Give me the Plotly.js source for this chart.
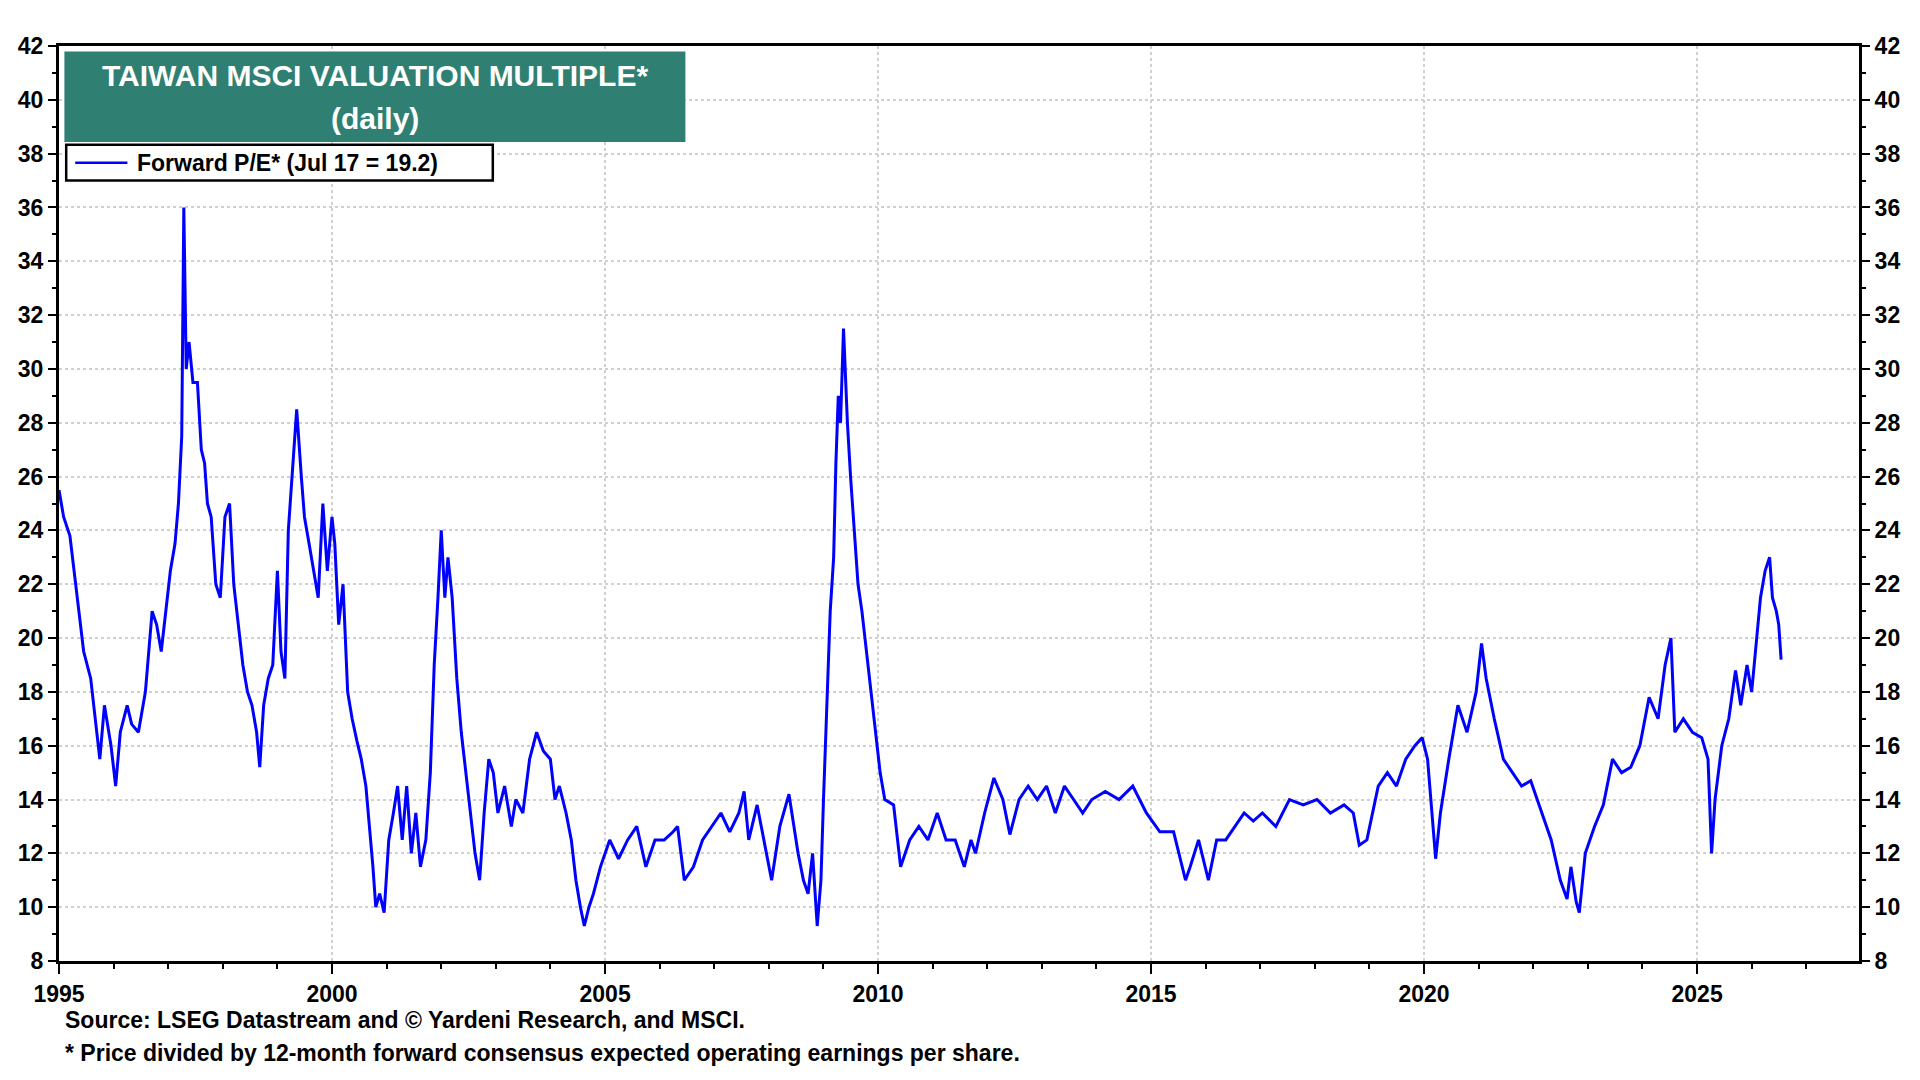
<!DOCTYPE html>
<html>
<head>
<meta charset="utf-8">
<script src="https://cdn.plot.ly/plotly-3.0.1.min.js"></script>
<style>
  html, body { margin: 0; padding: 0; background: #fff; }
  #chart { width: 1920px; height: 1080px; }
</style>
</head>
<body>
<div id="chart"></div>
<script>
/* Taiwan MSCI forward P/E */

const dates = [
  '1995-01-01','1995-02-01','1995-03-15','1995-05-01','1995-06-15','1995-08-01','1995-09-01','1995-10-01','1995-11-01','1995-12-15',
  '1996-01-15','1996-02-15','1996-04-01','1996-05-01','1996-06-15','1996-08-01','1996-09-15','1996-10-15','1996-11-15','1996-12-15',
  '1997-01-15','1997-02-15','1997-03-10','1997-04-01','1997-04-15','1997-05-01','1997-05-20','1997-06-15','1997-07-15','1997-08-10','1997-09-01','1997-09-20','1997-10-15','1997-11-15','1997-12-15',
  '1998-01-15','1998-02-15','1998-03-15','1998-04-15','1998-05-15','1998-06-15','1998-07-15','1998-08-15','1998-09-05','1998-10-01','1998-11-01','1998-12-01',
  '1999-01-01','1999-01-25','1999-02-20','1999-03-15','1999-04-15','1999-05-10','1999-06-10','1999-07-01','1999-08-01','1999-09-01','1999-10-01','1999-11-01','1999-12-01',
  '2000-01-01','2000-01-20','2000-02-15','2000-03-15','2000-04-15','2000-05-15','2000-06-15','2000-07-15','2000-08-15','2000-09-10','2000-10-01','2000-10-20','2000-11-15','2000-12-15',
  '2001-01-15','2001-02-15','2001-03-15','2001-04-15','2001-05-15','2001-06-15','2001-07-15','2001-08-15','2001-09-20','2001-10-20','2001-11-15','2001-12-10',
  '2002-01-01','2002-01-25','2002-02-15','2002-03-15','2002-04-15','2002-05-15','2002-06-15','2002-07-15','2002-08-15','2002-09-15','2002-10-15','2002-11-15','2002-12-15',
  '2003-01-15','2003-03-01','2003-04-15','2003-05-15','2003-07-01','2003-08-15','2003-10-01','2003-11-15',
  '2004-01-01','2004-02-01','2004-03-01','2004-04-15','2004-05-20','2004-06-20','2004-07-20','2004-08-15','2004-09-15','2004-10-15','2004-12-01',
  '2005-02-01','2005-04-01','2005-06-01','2005-08-01','2005-10-01','2005-12-01',
  '2006-02-01','2006-04-01','2006-05-01','2006-06-15','2006-08-15','2006-10-15','2006-12-15',
  '2007-02-15','2007-04-15','2007-06-15','2007-07-20','2007-08-20','2007-10-15','2007-12-01',
  '2008-01-20','2008-03-15','2008-05-15','2008-07-15','2008-08-20','2008-09-20','2008-10-20','2008-11-20','2008-12-15',
  '2009-01-01','2009-01-20','2009-02-15','2009-03-10','2009-03-25','2009-04-10','2009-04-25','2009-05-15','2009-06-10','2009-07-01','2009-07-25','2009-08-20','2009-09-15','2009-10-15','2009-11-15','2009-12-15',
  '2010-01-15','2010-02-15','2010-04-15','2010-06-01','2010-08-01','2010-10-01','2010-12-01',
  '2011-02-01','2011-04-01','2011-06-01','2011-08-01','2011-09-15','2011-10-15','2011-12-15',
  '2012-02-15','2012-04-15','2012-06-01','2012-08-01','2012-10-01','2012-12-01',
  '2013-02-01','2013-04-01','2013-06-01','2013-08-01','2013-10-01','2013-12-01',
  '2014-03-01','2014-06-01','2014-09-01','2014-12-01',
  '2015-03-01','2015-06-01','2015-08-20','2015-09-20','2015-11-15',
  '2016-01-20','2016-03-15','2016-05-15','2016-07-15','2016-09-15','2016-11-15',
  '2017-01-15','2017-04-15','2017-07-15','2017-10-15',
  '2018-01-15','2018-04-15','2018-07-15','2018-09-15','2018-10-25','2018-12-15',
  '2019-03-01','2019-05-01','2019-07-01','2019-09-01','2019-11-01','2019-12-20',
  '2020-01-25','2020-03-19','2020-04-20','2020-06-15','2020-08-15','2020-10-15','2020-12-15',
  '2021-01-20','2021-02-20','2021-04-15','2021-06-15','2021-08-15','2021-10-15','2021-12-15',
  '2022-03-01','2022-05-01','2022-07-01','2022-08-15','2022-09-10','2022-10-15','2022-11-05','2022-12-15',
  '2023-02-15','2023-04-15','2023-06-15','2023-08-15','2023-10-15','2023-12-15',
  '2024-02-15','2024-04-15','2024-06-01','2024-07-10','2024-08-05','2024-10-01','2024-12-01',
  '2025-02-01','2025-03-15','2025-04-08','2025-05-01','2025-06-15','2025-08-01','2025-09-15','2025-10-20','2025-12-01',
  '2026-01-01','2026-02-01','2026-03-01','2026-04-01','2026-05-01','2026-05-20','2026-06-15','2026-07-01','2026-07-17'
];

const forwardPE = [
  25.5,24.5,23.8,21.5,19.5,18.5,17.0,15.5,17.5,16.0,
  14.5,16.5,17.5,16.8,16.5,18.0,21.0,20.5,19.5,21.0,
  22.5,23.5,25.0,27.5,36.0,30.0,31.0,29.5,29.5,27.0,26.5,25.0,24.5,22.0,21.5,
  24.5,25.0,22.0,20.5,19.0,18.0,17.5,16.5,15.2,17.5,18.5,19.0,
  22.5,19.5,18.5,24.0,26.5,28.5,26.0,24.5,23.5,22.5,21.5,25.0,22.5,
  24.5,23.5,20.5,22.0,18.0,17.0,16.2,15.5,14.5,13.0,11.5,10.0,10.5,9.8,
  12.5,13.5,14.5,12.5,14.5,12.0,13.5,11.5,12.5,15.0,19.0,21.5,
  24.0,21.5,23.0,21.5,18.5,16.5,15.0,13.5,12.0,11.0,13.5,15.5,15.0,
  13.5,14.5,13.0,14.0,13.5,15.5,16.5,15.8,
  15.5,14.0,14.5,13.5,12.5,11.0,10.0,9.3,10.0,10.5,11.5,
  12.5,11.8,12.5,13.0,11.5,12.5,
  12.5,12.8,13.0,11.0,11.5,12.5,13.0,
  13.5,12.8,13.5,14.3,12.5,13.8,12.5,
  11.0,13.0,14.2,12.0,11.0,10.5,12.0,9.3,11.0,
  14.0,17.0,21.0,23.0,26.5,29.0,28.0,31.5,28.0,26.0,24.0,22.0,21.0,19.5,18.0,16.5,
  15.0,14.0,13.8,11.5,12.5,13.0,12.5,
  13.5,12.5,12.5,11.5,12.5,12.0,13.5,
  14.8,14.0,12.7,14.0,14.5,14.0,
  14.5,13.5,14.5,14.0,13.5,14.0,
  14.3,14.0,14.5,13.5,
  12.8,12.8,11.0,11.5,12.5,
  11.0,12.5,12.5,13.0,13.5,13.2,
  13.5,13.0,14.0,13.8,
  14.0,13.5,13.8,13.5,12.3,12.5,
  14.5,15.0,14.5,15.5,16.0,16.3,
  15.5,11.8,13.5,15.5,17.5,16.5,18.0,
  19.8,18.5,17.0,15.5,15.0,14.5,14.7,
  13.5,12.5,11.0,10.3,11.5,10.2,9.8,12.0,
  13.0,13.8,15.5,15.0,15.2,16.0,
  17.8,17.0,19.0,20.0,16.5,17.0,16.5,
  16.3,15.5,12.0,14.0,16.0,17.0,18.8,17.5,19.0,
  18.0,20.0,21.5,22.5,23.0,21.5,21.0,20.5,19.2
];

const yTicks = [8,10,12,14,16,18,20,22,24,26,28,30,32,34,36,38,40,42];
const xTicks = ['1995-01-01','2000-01-01','2005-01-01','2010-01-01','2015-01-01','2020-01-01','2025-01-01'];
const xTickText = ['1995','2000','2005','2010','2015','2020','2025'];

const FONT = 'Liberation Sans, Arial, sans-serif';

const trace = {
  type: 'scatter', mode: 'lines',
  x: dates, y: forwardPE,
  line: { color: '#0000ff', width: 3 },
  hoverinfo: 'skip', showlegend: false
};
// twin on right axis so the right tick labels exist
const ghost = {
  type: 'scatter', mode: 'lines', x: [dates[0]], y: [forwardPE[0]],
  yaxis: 'y2', line: { width: 0 }, hoverinfo: 'skip', showlegend: false
};

const yBase = {
  range: [8, 42], tickvals: yTicks, ticks: 'outside', ticklen: 8, tickwidth: 2,
  tickcolor: '#000', showline: true, linecolor: '#000', linewidth: 3,
  tickfont: { family: FONT, size: 23, color: '#000', weight: 'bold' },
  minor: { dtick: 1, ticks: 'outside', ticklen: 4, tickcolor: '#000', showgrid: false },
  zeroline: false, fixedrange: true
};

const layout = {
  width: 1920, height: 1080,
  margin: { l: 59, r: 61, t: 46, b: 119 },
  paper_bgcolor: '#fff', plot_bgcolor: '#fff',
  font: { family: FONT, color: '#000' },
  xaxis: {
    type: 'date', range: ['1995-01-01', '2027-12-20'],
    tickvals: xTicks, ticktext: xTickText, ticks: 'outside', ticklen: 10, tickwidth: 2,
    tickcolor: '#000', showline: true, linecolor: '#000', linewidth: 3, mirror: true,
    tickfont: { family: FONT, size: 23, color: '#000', weight: 'bold' },
    showgrid: true, gridcolor: '#d0d0d0', griddash: 'dot', gridwidth: 2,
    minor: { dtick: 'M12', ticks: 'outside', ticklen: 5, tickcolor: '#000', showgrid: false },
    zeroline: false
  },
  yaxis: Object.assign({}, yBase, {
    side: 'left', showgrid: true, gridcolor: '#d0d0d0', griddash: 'dot', gridwidth: 2
  }),
  yaxis2: Object.assign({}, yBase, { overlaying: 'y', side: 'right', showgrid: false }),
  shapes: [
    { type: 'rect', xref: 'paper', yref: 'paper', x0: 0.003, x1: 0.348, y0: 0.895, y1: 0.994,
      fillcolor: '#2f7f73', line: { width: 0 } },
    { type: 'rect', xref: 'paper', yref: 'paper', x0: 0.004, x1: 0.241, y0: 0.853, y1: 0.892,
      fillcolor: '#fff', line: { color: '#000', width: 2.5 } },
    { type: 'line', xref: 'paper', yref: 'paper', x0: 0.009, x1: 0.038, y0: 0.8725, y1: 0.8725,
      line: { color: '#0000ff', width: 2.5 } }
  ],
  annotations: [
    { xref: 'paper', yref: 'paper', x: 0.1755, y: 0.968, xanchor: 'center', yanchor: 'middle',
      text: 'TAIWAN MSCI VALUATION MULTIPLE*',
      showarrow: false, font: { family: FONT, size: 30, color: '#fff', weight: 'bold' } },
    { xref: 'paper', yref: 'paper', x: 0.1755, y: 0.921, xanchor: 'center', yanchor: 'middle',
      text: '(daily)',
      showarrow: false, font: { family: FONT, size: 30, color: '#fff', weight: 'bold' } },
    { xref: 'paper', yref: 'paper', x: 0.042, y: 0.8725, xanchor: 'left', yanchor: 'middle',
      text: 'Forward P/E* (Jul 17 = 19.2)',
      showarrow: false, font: { family: FONT, size: 23, color: '#000', weight: 'bold' } },
    { xref: 'paper', yref: 'paper', x: 0.002, y: -0.065, xanchor: 'left', yanchor: 'middle',
      text: 'Source: LSEG Datastream and © Yardeni Research, and MSCI.',
      showarrow: false, font: { family: FONT, size: 23, color: '#000', weight: 'bold' } },
    { xref: 'paper', yref: 'paper', x: 0.002, y: -0.101, xanchor: 'left', yanchor: 'middle',
      text: '* Price divided by 12-month forward consensus expected operating earnings per share.',
      showarrow: false, font: { family: FONT, size: 23, color: '#000', weight: 'bold' } }
  ]
};

Plotly.newPlot('chart', [trace, ghost], layout, { displayModeBar: false, staticPlot: true });
</script>
</body>
</html>
